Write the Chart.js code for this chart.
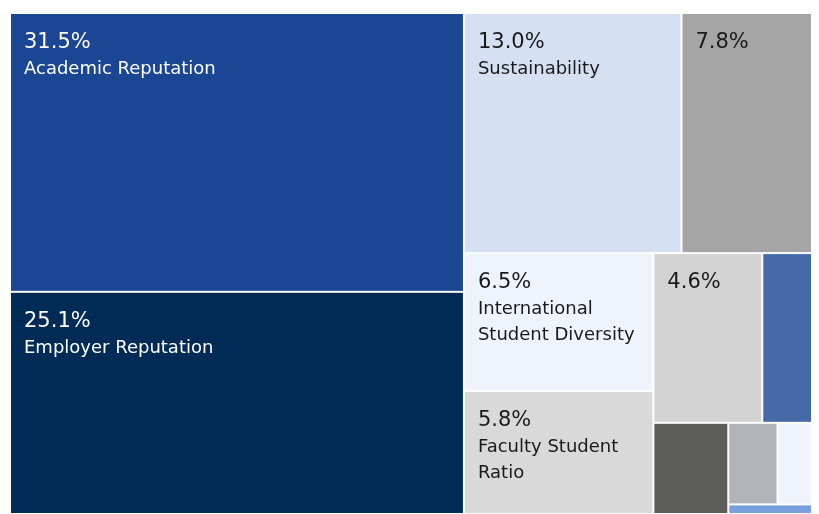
<!DOCTYPE html>
<html>
<head>
<meta charset="utf-8">
<script src="https://cdn.jsdelivr.net/npm/chart.js@4.4.1/dist/chart.umd.min.js"></script>
<style>
  html, body { margin: 0; padding: 0; background: #fff; }
  #wrap { width: 819px; height: 514px; }
</style>
</head>
<body>
<div id="wrap"><canvas id="chartTreemap"></canvas></div>
<script>
// criterios y pesos (%); los nombres que no se ven quedan vacios
const categorias = ['Academic Reputation', 'Employer Reputation', 'Sustainability', '',
  'International Student Diversity', 'Faculty Student Ratio', '', '', '', '', '', ''];
const valores = [31.5, 25.1, 13.0, 7.8, 6.5, 5.8, 4.6, 2.1, 1.7, 1.0, 0.7, 0.2];

const colores = ['#1a4693', '#002b57', '#d5e1f2', '#a5a5a5', '#eff3fb', '#d9d9d9',
  '#d3d3d3', '#466aa8', '#5d5d5c', '#b2b5b7', '#eff3fb', '#78a0dc'];

// squarify estilo d3 (ratio = phi), trabajando en unidades de datos
function squarify(vals, x0, y0, x1, y1, kx, ky) {
  const phi = (1 + Math.sqrt(5)) / 2;
  const out = [];
  const n = vals.length;
  let value = vals.reduce((a, b) => a + b, 0);
  let i0 = 0, i1 = 0;
  while (i0 < n) {
    const dx = (x1 - x0) * kx, dy = (y1 - y0) * ky;
    let sum = vals[i1++];
    let minV = sum, maxV = sum;
    const alpha = Math.max(dy / dx, dx / dy) / (value * phi);
    let beta = sum * sum * alpha;
    let minRatio = Math.max(maxV / beta, beta / minV);
    for (; i1 < n; ++i1) {
      const v = vals[i1];
      sum += v;
      if (v < minV) minV = v;
      if (v > maxV) maxV = v;
      beta = sum * sum * alpha;
      const r = Math.max(maxV / beta, beta / minV);
      if (r > minRatio) { sum -= v; break; }
      minRatio = r;
    }
    if (dx < dy) {
      const yb = y0 + (y1 - y0) * sum / value;
      let x = x0;
      for (let k = i0; k < i1; k++) {
        const w = (x1 - x0) * vals[k] / sum;
        out[k] = { x0: x, x1: x + w, y0: y0, y1: yb };
        x += w;
      }
      y0 = yb;
    } else {
      const xb = x0 + (x1 - x0) * sum / value;
      let y = y0;
      for (let k = i0; k < i1; k++) {
        const h = (y1 - y0) * vals[k] / sum;
        out[k] = { x0: x0, x1: xb, y0: y, y1: y + h };
        y += h;
      }
      x0 = xb;
    }
    value -= sum;
    i0 = i1;
  }
  return out;
}

function esOscuro(hex) {
  const r = parseInt(hex.substr(1, 2), 16), g = parseInt(hex.substr(3, 2), 16), b = parseInt(hex.substr(5, 2), 16);
  return (0.299 * r + 0.587 * g + 0.114 * b) < 110;
}

function partirTexto(ctx, texto, ancho) {
  if (!texto) return [];
  const palabras = texto.split(' ');
  const lineas = [];
  let actual = '';
  palabras.forEach(p => {
    const prueba = actual ? actual + ' ' + p : p;
    if (ctx.measureText(prueba).width <= ancho || !actual) {
      actual = prueba;
    } else {
      lineas.push(actual);
      actual = p;
    }
  });
  if (actual) lineas.push(actual);
  return lineas;
}

const treemapPlugin = {
  id: 'treemap',
  beforeDatasetsDraw(chart) {
    const ctx = chart.ctx;
    const xs = chart.scales.x, ys = chart.scales.y;
    const kx = Math.abs(xs.getPixelForValue(100) - xs.getPixelForValue(0)) / 100;
    const ky = Math.abs(ys.getPixelForValue(100) - ys.getPixelForValue(0)) / 100;
    const rects = squarify(valores, 0, 0, 100, 100, kx, ky);
    const pad = 13;
    ctx.save();
    rects.forEach((r, i) => {
      const left = xs.getPixelForValue(r.x0) + 1;
      const right = xs.getPixelForValue(r.x1) - 1;
      const top = ys.getPixelForValue(r.y0) + 1;
      const bottom = ys.getPixelForValue(r.y1) - 1;
      const w = right - left, h = bottom - top;
      ctx.fillStyle = colores[i];
      ctx.fillRect(left, top, w, h);

      ctx.fillStyle = esOscuro(colores[i]) ? '#ffffff' : '#1a1a1a';
      ctx.textBaseline = 'alphabetic';
      ctx.textAlign = 'left';
      ctx.font = '21px "DejaVu Sans", Verdana, sans-serif';
      const pct = valores[i].toFixed(1) + '%';
      if (ctx.measureText(pct).width > w - 2 * pad || h < 45) return;
      ctx.fillText(pct, left + pad, top + 34);

      ctx.font = '18px "DejaVu Sans", Verdana, sans-serif';
      const lineas = partirTexto(ctx, categorias[i], w - 2 * pad);
      const caben = lineas.every(l => ctx.measureText(l).width <= w - 2 * pad);
      if (!caben || 34 + 26 * lineas.length + 10 > h) return;
      lineas.forEach((l, j) => ctx.fillText(l, left + pad, top + 60 + 26 * j));
    });
    ctx.restore();
  }
};

const ctx = document.getElementById('chartTreemap').getContext('2d');
window.chartTreemap = new Chart(ctx, {
  type: 'scatter',
  data: { datasets: [] },
  options: {
    responsive: true,
    maintainAspectRatio: false,
    animation: false,
    layout: { padding: { left: 10, top: 13, right: 7, bottom: 0 } },
    plugins: { legend: { display: false }, tooltip: { enabled: false } },
    scales: {
      x: { type: 'linear', min: 0, max: 100, display: false },
      y: { type: 'linear', min: 0, max: 100, reverse: true, display: false }
    }
  },
  plugins: [treemapPlugin]
});
</script>
</body>
</html>
